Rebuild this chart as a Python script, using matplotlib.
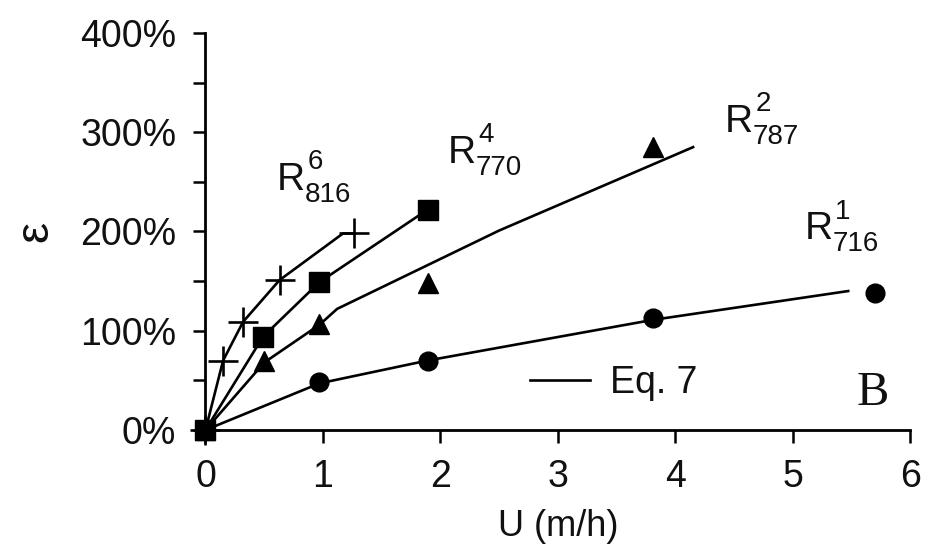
import matplotlib
matplotlib.use("Agg")
import matplotlib.pyplot as plt
from matplotlib.ticker import MultipleLocator, FuncFormatter

plt.rcParams['font.family'] = ['Liberation Sans', 'DejaVu Sans']

# Measured data (U in m/h, epsilon in %)
u_716 = [0, 0.97, 1.89, 3.81, 5.70]
e_716 = [0, 48, 70, 113, 138]
u_787 = [0, 0.50, 0.97, 1.89, 3.81]
e_787 = [0, 70, 107, 148, 285]
u_770 = [0, 0.49, 0.97, 1.89]
e_770 = [0, 94, 149, 222]
u_816 = [0, 0.15, 0.32, 0.63, 1.26]
e_816 = [0, 70, 109, 151, 198]

# Eq. 7 curves
fu_716 = [0, 0.97, 1.89, 3.81, 5.47]
fe_716 = [0, 47, 70, 111, 140]
fu_787 = [0, 0.50, 0.97, 1.12, 2.5, 4.15]
fe_787 = [0, 68, 106, 122, 201, 285]
fu_770 = [0, 0.49, 0.97, 1.89]
fe_770 = [0, 94, 149, 222]
fu_816 = [0, 0.15, 0.32, 0.63, 1.17, 1.26]
fe_816 = [0, 70, 109, 151, 198, 198]

label_sup = ['6', '4', '2', '1']
label_sub = ['816', '770', '787', '716']
label_u = [0.61, 2.06, 4.42, 5.10]
label_e = [242, 269, 300, 192]

fig = plt.figure(figsize=(9.4, 5.57), dpi=100)
ax = fig.add_axes([0.2186, 0.228, 0.75, 0.7128])

lw = 1.9
ax.plot(fu_716, fe_716, color='black', lw=lw, label='Eq. 7', clip_on=False)
ax.plot(fu_787, fe_787, color='black', lw=lw, clip_on=False)
ax.plot(fu_770, fe_770, color='black', lw=lw, clip_on=False)
ax.plot(fu_816, fe_816, color='black', lw=lw, clip_on=False)

ax.plot(u_716, e_716, 'o', color='black', ms=13.5, ls='none', clip_on=False)
ax.plot(u_787, e_787, '^', color='black', ms=14, ls='none', clip_on=False)
ax.plot(u_770, e_770, 's', color='black', ms=14, ls='none', clip_on=False)
ax.plot(u_816, e_816, '+', color='black', ms=22, mew=1.9, ls='none', clip_on=False)

tc = '#111111'
for sp, sb, x, y in zip(label_sup, label_sub, label_u, label_e):
    ax.text(x, y, 'R', fontsize=28, ha='left', va='baseline', color=tc)
    ax.annotate(sb, xy=(x, y), xytext=(20, -8.5), textcoords='offset points',
                fontsize=20, ha='left', va='baseline', color=tc)
    ax.annotate(sp, xy=(x, y), xytext=(22, 15), textcoords='offset points',
                fontsize=20, ha='left', va='baseline', color=tc)

ax.set_xlim(0, 6)
ax.set_ylim(0, 400)
ax.xaxis.set_major_locator(MultipleLocator(1))
ax.yaxis.set_major_locator(MultipleLocator(100))
ax.yaxis.set_minor_locator(MultipleLocator(50))
ax.yaxis.set_major_formatter(FuncFormatter(lambda v, p: f'{int(v)}%'))

for s in ['top', 'right']:
    ax.spines[s].set_visible(False)
for s in ['left', 'bottom']:
    ax.spines[s].set_linewidth(2.0)

ax.tick_params(axis='both', which='both', direction='out', length=9, width=1.8,
               labelsize=27, pad=12, colors='black', labelcolor=tc)

ax.set_xlabel('U (m/h)', fontsize=26, color=tc)
ax.set_ylabel('ε', fontsize=34, color=tc)
ax.xaxis.set_label_coords(0.5, -0.20)
ax.yaxis.set_label_coords(-0.21, 0.5)

leg = ax.legend(loc='center left', bbox_to_anchor=(0.46, 0.118), frameon=False,
                fontsize=27, handlelength=1.6, handletextpad=0.55,
                borderpad=0, borderaxespad=0)
for t in leg.get_texts():
    t.set_color(tc)

ax.text(0.924, 0.063, 'B', transform=ax.transAxes, fontsize=35,
        family='Liberation Serif', ha='left', va='baseline', color=tc)

fig.savefig('out.png', dpi=100)
